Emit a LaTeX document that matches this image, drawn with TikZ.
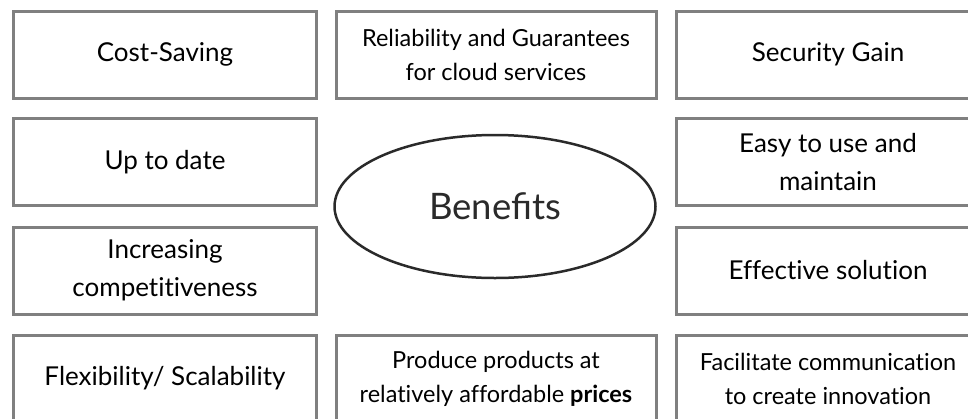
\documentclass[tikz,border=0pt]{standalone}
\usepackage{fontspec}
\setmainfont{Lato}
\usetikzlibrary{shapes.geometric}
\definecolor{boxgray}{HTML}{808080}
\definecolor{elldark}{HTML}{2A2A2A}
\tikzset{
  bx/.style={draw=boxgray, line width=3pt, rectangle, inner sep=0pt, align=center, text=black},
  bigbx/.style={bx, minimum height=87pt, font=\fontsize{26}{38}\selectfont\addfontfeatures{Ligatures=NoCommon}},
  smlbx/.style={bx, minimum height=87pt, font=\fontsize{23.5}{34}\selectfont\addfontfeatures{Ligatures=NoCommon}},
  side/.style={minimum width=303pt},
  mid/.style={minimum width=320pt},
}
\begin{document}
\begin{tikzpicture}[x=1pt,y=-1pt]
\useasboundingbox (0,0) rectangle (968,418);
\clip (0,0) rectangle (968,418);
\node[bigbx,side] (cost) at (165,54.5) {Cost-Saving};
\node[smlbx,mid] (rel) at (496,54.5) {Reliability and Guarantees\\for cloud services};
\node[bigbx,side] (sec) at (828,54.5) {Security Gain};
\node[bigbx,side] (upd) at (165,162) {Up to date};
\node[bigbx,side] (easy) at (828,162) {Easy to use and\\maintain};
\node[bigbx,side] (inc) at (165,270.5) {Increasing\\competitiveness};
\node[bigbx,side] (eff) at (828,270.5) {Effective solution};
\node[bigbx,side] (flex) at (165,378.5) {Flexibility/ Scalability};
\node[smlbx,mid] (prod) at (496,378.5) {Produce products at\\relatively affordable \textbf{prices}};
\node[smlbx,side] (fac) at (828,378.5) {Facilitate communication\\to create innovation};
\node[draw=elldark, line width=2.5pt, ellipse, inner sep=0pt, minimum width=321pt, minimum height=143pt, text=elldark, font=\fontsize{36.5}{42}\selectfont] (ben) at (495,206.5) {Benefits};
\end{tikzpicture}
\end{document}
